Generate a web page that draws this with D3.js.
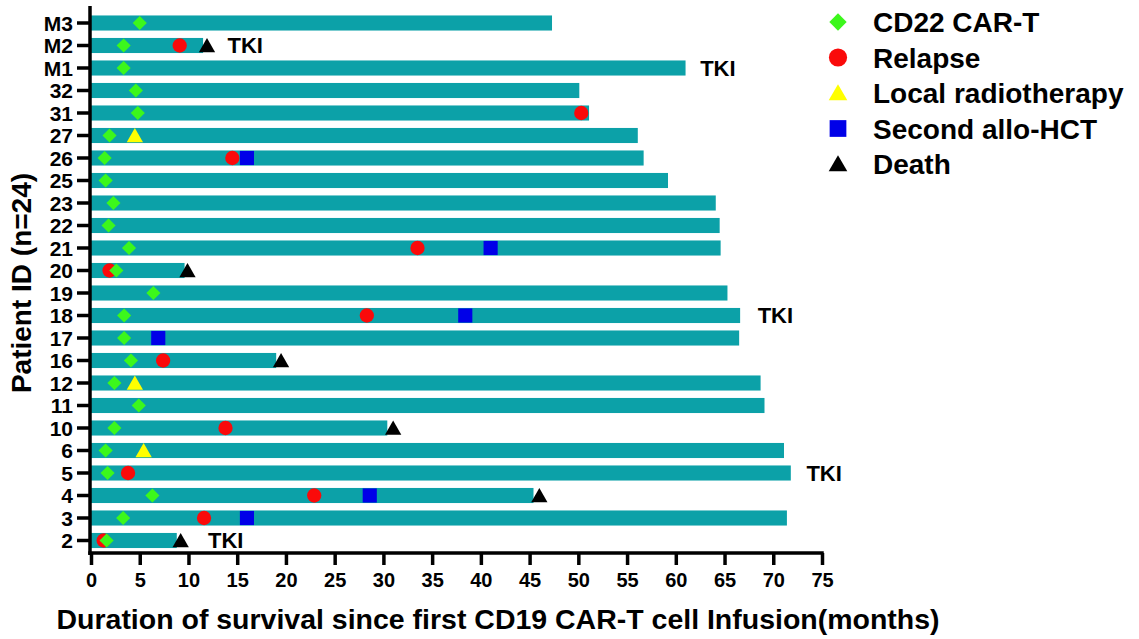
<!DOCTYPE html>
<html>
<head>
<meta charset="utf-8">
<script src="https://cdn.jsdelivr.net/npm/d3@7"></script>
<style>
  body { margin: 0; background: #fff; }
  svg text { font-family: Arial, "Liberation Sans", sans-serif; font-weight: bold; fill: #000; }
</style>
</head>
<body>
<svg id="chart" width="1139" height="639"></svg>
<script>
// patients, bottom to top as in the figure
var patients = ['2','3','4','5','6','10','11','12','16','17','18','19','20','21','22','23','25','26','27','31','32','M1','M2','M3'];
// months of follow-up (bar length)
var survival = [8.8,71.4,45.4,71.8,71.1,30.4,69.1,68.7,19.0,66.5,66.6,65.3,9.6,64.6,64.5,64.1,59.2,56.7,56.1,51.1,50.1,61.0,11.5,47.3];
// CD22 CAR-T time for each patient (same order)
var cd22 = [1.6,3.3,6.3,1.7,1.5,2.4,4.9,2.4,4.1,3.4,3.4,6.4,2.6,3.9,1.8,2.3,1.5,1.4,1.9,4.8,4.6,3.35,3.35,5.0];

var relapse = [['2',1.3],['3',11.6],['4',22.9],['5',3.8],['10',13.8],['16',7.4],['18',28.3],['20',1.9],['21',33.5],['26',14.5],['31',50.3],['M2',9.1]];
var radiotherapy = [['6',5.4],['12',4.5],['27',4.5]];
var alloHCT = [['3',16.0],['4',28.6],['17',6.9],['18',38.4],['21',41.0],['26',16.0]];
var death = [['2',9.2],['4',46.0],['10',31.0],['16',19.5],['20',9.9],['M2',11.9]];
// TKI notes: patient, month where the label starts
var tki = [['M2',14.0],['M1',62.5],['18',68.4],['5',73.4],['2',12.0]];

var xTicks = d3.range(0, 80, 5);
var legendItems = ['CD22 CAR-T','Relapse','Local radiotherapy','Second allo-HCT','Death'];

var teal = '#0ca1a8', green = '#3cf71c', red = '#fa0a0a', yellow = '#ffff00', blue = '#0000e8';

var svg = d3.select('#chart');

var x = d3.scaleLinear().domain([0, 75]).range([91, 822]);
var y = d3.scaleBand()
    .domain(patients.slice().reverse())
    .range([11.75, 551.75])
    .paddingInner(0.33)
    .paddingOuter(0.165);
var cy = function(id){ return y(id) + y.bandwidth() / 2; };

// bars
svg.append('g').selectAll('rect')
    .data(patients)
    .enter().append('rect')
    .attr('x', x(0))
    .attr('y', function(d){ return y(d); })
    .attr('width', function(d, i){ return x(survival[i]) - x(0); })
    .attr('height', y.bandwidth())
    .attr('fill', teal);

var sym = function(type, size){ return d3.symbol().type(type).size(size)(); };

// relapse first so diamonds sit on top
svg.append('g').selectAll('path')
    .data(relapse)
    .enter().append('path')
    .attr('d', sym(d3.symbolCircle, 160))
    .attr('transform', function(d){ return 'translate(' + x(d[1]) + ',' + cy(d[0]) + ')'; })
    .attr('fill', red);

svg.append('g').selectAll('path')
    .data(patients)
    .enter().append('path')
    .attr('d', sym(d3.symbolSquare, 100))
    .attr('transform', function(d, i){ return 'translate(' + x(cd22[i]) + ',' + cy(d) + ') rotate(45)'; })
    .attr('fill', green);

svg.append('g').selectAll('path')
    .data(alloHCT)
    .enter().append('path')
    .attr('d', sym(d3.symbolSquare, 200))
    .attr('transform', function(d){ return 'translate(' + x(d[1]) + ',' + cy(d[0]) + ')'; })
    .attr('fill', blue);

svg.append('g').selectAll('path')
    .data(radiotherapy)
    .enter().append('path')
    .attr('d', sym(d3.symbolTriangle, 115))
    .attr('transform', function(d){ return 'translate(' + x(d[1]) + ',' + (cy(d[0]) + 2) + ')'; })
    .attr('fill', yellow);

svg.append('g').selectAll('path')
    .data(death)
    .enter().append('path')
    .attr('d', sym(d3.symbolTriangle, 115))
    .attr('transform', function(d){ return 'translate(' + x(d[1]) + ',' + (cy(d[0]) + 2) + ')'; })
    .attr('fill', '#000');

svg.append('g').selectAll('text')
    .data(tki)
    .enter().append('text')
    .attr('x', function(d){ return x(d[1]); })
    .attr('y', function(d){ return cy(d[0]); })
    .attr('dy', '0.36em')
    .style('font-size', '22px')
    .text('TKI');

// axes
var yAxis = svg.append('g')
    .attr('transform', 'translate(90,0)')
    .call(d3.axisLeft(y).tickSize(13).tickPadding(4));
yAxis.select('.domain').remove();
yAxis.selectAll('line').attr('stroke', '#000').attr('stroke-width', 3.5);
yAxis.selectAll('text').style('font-size', '21px').attr('dy', '0.36em');

var xAxis = svg.append('g')
    .attr('transform', 'translate(0,553)')
    .call(d3.axisBottom(x).tickValues(xTicks).tickSize(12).tickPadding(8));
xAxis.select('.domain').remove();
xAxis.selectAll('line').attr('stroke', '#000').attr('stroke-width', 3.5);
xAxis.selectAll('text').style('font-size', '20px');

svg.append('line').attr('x1', 90).attr('x2', 90).attr('y1', 6).attr('y2', 555)
    .attr('stroke', '#000').attr('stroke-width', 3.5);
svg.append('line').attr('x1', 88.25).attr('x2', x(75) + 1.75).attr('y1', 553).attr('y2', 553)
    .attr('stroke', '#000').attr('stroke-width', 3.5);

// titles
svg.append('text')
    .attr('transform', 'translate(31,283) rotate(-90)')
    .attr('text-anchor', 'middle')
    .style('font-size', '28px')
    .text('Patient ID (n=24)');

svg.append('text')
    .attr('x', 498).attr('y', 629)
    .attr('text-anchor', 'middle')
    .attr('textLength', 883)
    .attr('lengthAdjust', 'spacingAndGlyphs')
    .style('font-size', '27px')
    .text('Duration of survival since first CD19 CAR-T cell Infusion(months)');

// legend
var legendShapes = [
    {type: d3.symbolSquare, size: 150, fill: green, rot: 45, dy: 0},
    {type: d3.symbolCircle, size: 260, fill: red, rot: 0, dy: 0},
    {type: d3.symbolTriangle, size: 150, fill: yellow, rot: 0, dy: 2},
    {type: d3.symbolSquare, size: 280, fill: blue, rot: 0, dy: 0},
    {type: d3.symbolTriangle, size: 150, fill: '#000', rot: 0, dy: 2}
];
var leg = svg.append('g').selectAll('g')
    .data(legendItems)
    .enter().append('g')
    .attr('transform', function(d, i){ return 'translate(838,' + (22 + i * 35.5) + ')'; });
leg.append('path')
    .attr('d', function(d, i){ return sym(legendShapes[i].type, legendShapes[i].size); })
    .attr('transform', function(d, i){ return 'translate(0,' + legendShapes[i].dy + ') rotate(' + legendShapes[i].rot + ')'; })
    .attr('fill', function(d, i){ return legendShapes[i].fill; });
leg.append('text')
    .attr('x', 35)
    .attr('dy', '0.36em')
    .style('font-size', '28px')
    .text(function(d){ return d; });
</script>
</body>
</html>
